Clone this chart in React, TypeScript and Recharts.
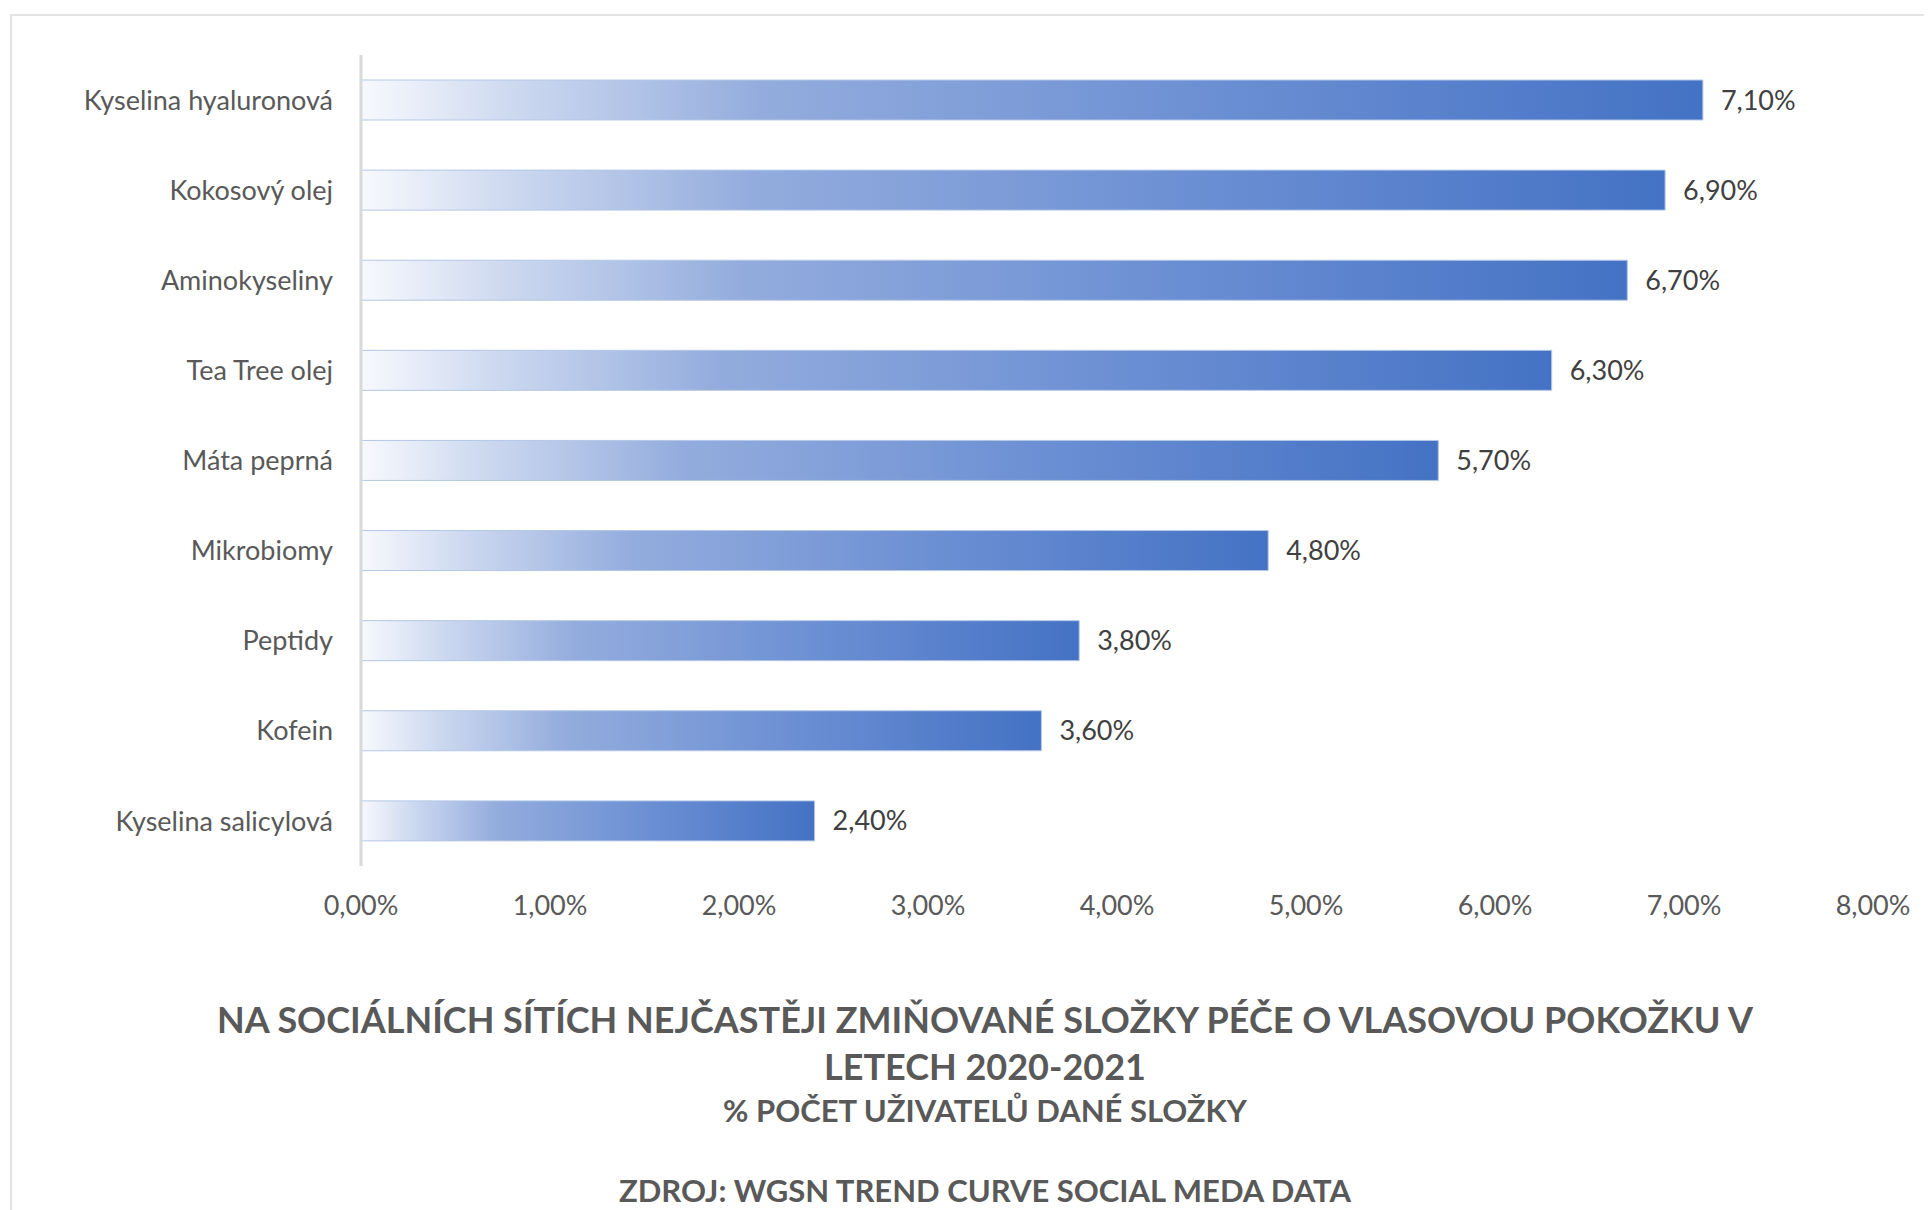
import React from 'react';
import { BarChart, Bar, XAxis, YAxis, LabelList } from 'recharts';

const categories = [
  'Kyselina hyaluronová',
  'Kokosový olej',
  'Aminokyseliny',
  'Tea Tree olej',
  'Máta peprná',
  'Mikrobiomy',
  'Peptidy',
  'Kofein',
  'Kyselina salicylová',
];

const shares = [7.1, 6.9, 6.7, 6.3, 5.7, 4.8, 3.8, 3.6, 2.4];

const xTicks = [0, 1, 2, 3, 4, 5, 6, 7, 8];

const titleLines = [
  'NA SOCIÁLNÍCH SÍTÍCH NEJČASTĚJI ZMIŇOVANÉ SLOŽKY PÉČE O VLASOVOU POKOŽKU V',
  'LETECH 2020-2021',
];
const subtitle = '% POČET UŽIVATELŮ DANÉ SLOŽKY';
const source = 'ZDROJ: WGSN TREND CURVE SOCIAL MEDA DATA';

const data = categories.map((name, i) => ({ name, value: shares[i] }));

const pct = (v: number) => v.toFixed(2).replace('.', ',') + '%';

const FONT = 'Lato, "Open Sans", sans-serif';
const TEXT = '#595959';

export default function App() {
  return (
    <div
      style={{
        position: 'relative',
        width: 1916,
        height: 1202,
        overflow: 'hidden',
        background: '#fff',
        fontFamily: FONT,
      }}
    >
      <style>{`html, body { overflow: hidden; }`}</style>
      <div
        style={{
          position: 'absolute',
          left: 2,
          top: 6,
          width: 2000,
          height: 2000,
          border: '2px solid #e3e3e3',
        }}
      />
      <div style={{ position: 'absolute', left: 0, top: 0 }}>
        <BarChart
          width={1916}
          height={960}
          data={data}
          layout="vertical"
          margin={{ top: 47, right: 51, bottom: 0, left: 0 }}
          barCategoryGap={0}
        >
          <defs>
            <linearGradient id="barFill" x1="0" y1="0" x2="1" y2="0">
              <stop offset="0" stopColor="#f7f9fd" />
              <stop offset="0.12" stopColor="#cbd7ef" />
              <stop offset="0.3" stopColor="#93acdd" />
              <stop offset="0.65" stopColor="#6a8ed3" />
              <stop offset="1" stopColor="#4472c4" />
            </linearGradient>
          </defs>
          <XAxis
            type="number"
            domain={[0, 8]}
            ticks={xTicks}
            tickFormatter={pct}
            axisLine={false}
            tickLine={false}
            tickSize={0}
            tickMargin={30}
            height={102}
            interval={0}
            tick={{ fill: TEXT, fontSize: 27, fontFamily: FONT }}
          />
          <YAxis
            type="category"
            dataKey="name"
            width={353}
            axisLine={{ stroke: '#d9d9d9', strokeWidth: 3 }}
            tickLine={false}
            tickSize={0}
            tickMargin={28}
            interval={0}
            tick={{ fill: TEXT, fontSize: 27, fontFamily: FONT }}
          />
          <Bar
            dataKey="value"
            barSize={40}
            fill="url(#barFill)"
            stroke="#b4c7e7"
            strokeWidth={1}
            isAnimationActive={false}
          >
            <LabelList
              dataKey="value"
              position="right"
              offset={18}
              formatter={(v: number) => pct(v)}
              style={{ fill: '#404040', fontSize: 27, fontFamily: FONT }}
            />
          </Bar>
        </BarChart>
      </div>
      <div
        style={{
          position: 'absolute',
          left: 38,
          right: 0,
          top: 988,
          textAlign: 'center',
          color: TEXT,
          fontWeight: 700,
        }}
      >
        {titleLines.map((t) => (
          <div key={t} style={{ fontSize: 36, lineHeight: '47px', whiteSpace: 'nowrap' }}>
            {t}
          </div>
        ))}
        <div style={{ fontSize: 31, lineHeight: '40px' }}>{subtitle}</div>
        <div style={{ fontSize: 31, lineHeight: '40px', marginTop: 40 }}>{source}</div>
      </div>
    </div>
  );
}
